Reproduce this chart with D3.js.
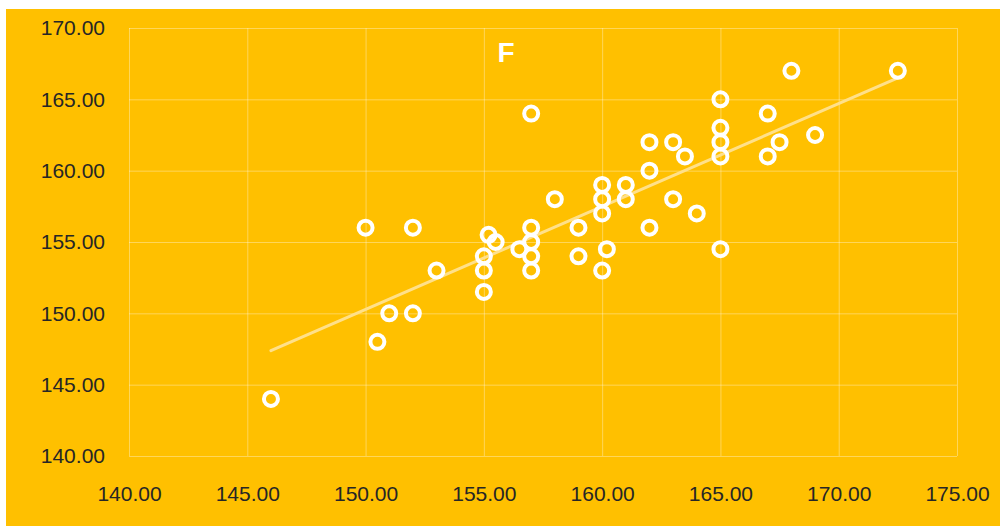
<!DOCTYPE html>
<html>
<head>
<meta charset="utf-8">
<script src="https://cdn.jsdelivr.net/npm/d3@7"></script>
<style>
  html, body { margin: 0; padding: 0; background: #fff; }
  svg { display: block; }
</style>
</head>
<body>
<script>
// scatter values (x, y)
var xValues = [146, 150, 150.5, 151, 152, 152, 153, 155, 155, 155, 155.2, 155.5, 156.5,
  157, 157, 157, 157, 157, 158, 159, 159, 160, 160, 160, 160, 160.2, 161, 161,
  162, 162, 162, 163, 163, 163.5, 164, 165, 165, 165, 165, 165, 167, 167, 167.5,
  168, 169, 172.5];
var yValues = [144, 156, 148, 150, 156, 150, 153, 151.5, 153, 154, 155.5, 155, 154.5,
  156, 155, 154, 153, 164, 158, 156, 154, 159, 158, 157, 153, 154.5, 159, 158,
  162, 160, 156, 162, 158, 161, 157, 165, 163, 162, 161, 154.5, 164, 161, 162,
  167, 162.5, 167];
var xTicks = [140, 145, 150, 155, 160, 165, 170, 175];
var yTicks = [140, 145, 150, 155, 160, 165, 170];
var chartTitle = "F";

var width = 1000, height = 527;
var plot = {left: 129, right: 957, top: 28, bottom: 456};

var svg = d3.select("body").append("svg")
  .attr("width", width)
  .attr("height", height);

// chart background
svg.append("rect")
  .attr("x", 6).attr("y", 9)
  .attr("width", width - 6).attr("height", 517)
  .attr("fill", "#FFC000");

var x = d3.scaleLinear().domain([140, 175]).range([plot.left, plot.right]);
var y = d3.scaleLinear().domain([140, 170]).range([plot.bottom, plot.top]);

var grid = svg.append("g")
  .attr("stroke", "rgba(255,255,255,0.35)")
  .attr("stroke-width", 1);

grid.selectAll("line.v")
  .data(xTicks)
  .enter().append("line")
  .attr("x1", d => x(d) + 0.5).attr("x2", d => x(d) + 0.5)
  .attr("y1", plot.top).attr("y2", plot.bottom);

grid.selectAll("line.h")
  .data(yTicks)
  .enter().append("line")
  .attr("x1", plot.left).attr("x2", plot.right)
  .attr("y1", d => y(d) + 0.5).attr("y2", d => y(d) + 0.5);

// axes (labels only)
var xAxis = svg.append("g")
  .attr("transform", `translate(0, ${plot.bottom})`)
  .call(d3.axisBottom(x).tickValues(xTicks).tickFormat(d3.format(".2f")).tickSize(0).tickPadding(30));
var yAxis = svg.append("g")
  .attr("transform", `translate(${plot.left}, 0)`)
  .call(d3.axisLeft(y).tickValues(yTicks).tickFormat(d3.format(".2f")).tickSize(0).tickPadding(24));

[xAxis, yAxis].forEach(ax => {
  ax.select(".domain").remove();
  ax.selectAll("text")
    .attr("fill", "#262626")
    .style("font-family", "'Liberation Sans', Arial, sans-serif")
    .style("font-size", "21px");
});

// linear trendline
var pts = xValues.map((v, i) => [v, yValues[i]]);
var mx = d3.mean(xValues), my = d3.mean(yValues);
var slope = d3.sum(pts, p => (p[0] - mx) * (p[1] - my)) / d3.sum(pts, p => (p[0] - mx) * (p[0] - mx));
var icpt = my - slope * mx;
var xmin = d3.min(xValues), xmax = d3.max(xValues);

svg.append("line")
  .attr("x1", x(xmin)).attr("y1", y(icpt + slope * xmin))
  .attr("x2", x(xmax)).attr("y2", y(icpt + slope * xmax))
  .attr("stroke", "#FFE08A")
  .attr("stroke-width", 3)
  .attr("stroke-linecap", "round");

// points
svg.append("g")
  .selectAll("circle")
  .data(pts)
  .enter().append("circle")
  .attr("cx", d => x(d[0]))
  .attr("cy", d => y(d[1]))
  .attr("r", 7)
  .attr("fill", "none")
  .attr("stroke", "#fff")
  .attr("stroke-width", 4);

svg.append("text")
  .attr("x", 506).attr("y", 62)
  .attr("text-anchor", "middle")
  .attr("fill", "#fff")
  .style("font-family", "'Liberation Sans', Arial, sans-serif")
  .style("font-weight", "bold")
  .style("font-size", "28px")
  .text(chartTitle);
</script>
</body>
</html>
